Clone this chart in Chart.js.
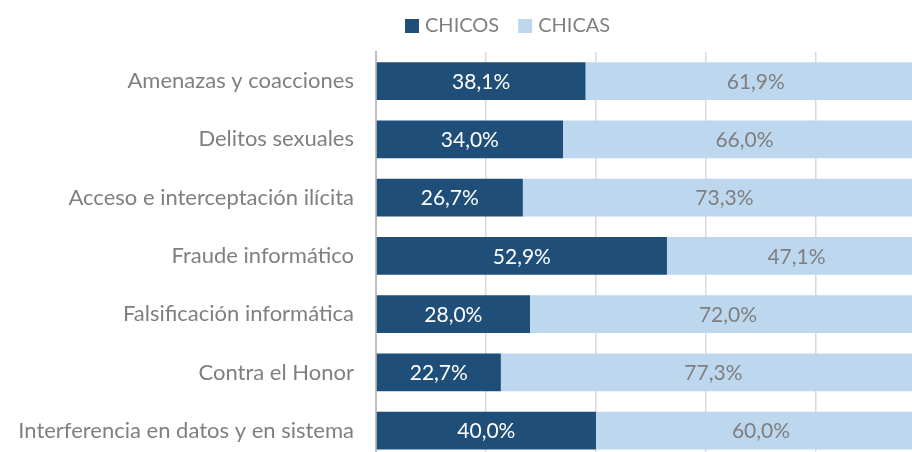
<!DOCTYPE html>
<html>
<head>
<meta charset="utf-8">
<script src="https://cdn.jsdelivr.net/npm/chart.js@4.4.1/dist/chart.umd.min.js"></script>
<style>
  html, body { margin: 0; padding: 0; background: #ffffff; overflow: hidden; }
  #wrap { width: 912px; height: 452px; overflow: hidden; position: relative; }
  canvas { display: block; }
</style>
</head>
<body>
<div id="wrap"><canvas id="c" width="940" height="495" style="width:940px;height:495px"></canvas></div>
<script>
const categories = [
  "Amenazas y coacciones",
  "Delitos sexuales",
  "Acceso e interceptación ilícita",
  "Fraude informático",
  "Falsificación informática",
  "Contra el Honor",
  "Interferencia en datos y en sistema"
];
const seriesNames = ["CHICOS", "CHICAS"];
const chicos = [38.1, 34.0, 26.7, 52.9, 28.0, 22.7, 40.0];
const chicas = [61.9, 66.0, 73.3, 47.1, 72.0, 77.3, 60.0];
const xTickValues = [0, 20, 40, 60, 80, 100];

const FONT = "Lato";
const GREY = "#7F7F7F";
const DARK = "#1F4E79";
const LIGHT = "#BDD7EE";

function fmt(v) { return v.toFixed(1).replace(".", ",") + "%"; }

const labelPlugin = {
  id: "barLabels",
  afterDatasetsDraw(chart) {
    const ctx = chart.ctx;
    ctx.save();
    ctx.font = "21px " + FONT;
    ctx.textAlign = "center";
    ctx.textBaseline = "middle";
    chart.data.datasets.forEach((ds, di) => {
      const meta = chart.getDatasetMeta(di);
      meta.data.forEach((bar, i) => {
        const cx = (bar.x + bar.base) / 2;
        ctx.fillStyle = di === 0 ? "#FFFFFF" : GREY;
        ctx.fillText(fmt(ds.data[i]), cx, bar.y + 1);
      });
    });
    ctx.restore();
  }
};

const legendPlugin = {
  id: "customLegend",
  afterDraw(chart) {
    const ctx = chart.ctx;
    ctx.save();
    ctx.font = "20px " + FONT;
    ctx.textBaseline = "middle";
    ctx.textAlign = "left";
    let x = 405;
    const y = 26;
    chart.data.datasets.forEach((ds) => {
      ctx.fillStyle = ds.backgroundColor;
      ctx.fillRect(x, y - 7, 14, 14);
      x += 14 + 6;
      ctx.fillStyle = GREY;
      ctx.fillText(ds.label, x, y);
      x += ctx.measureText(ds.label).width + 19;
    });
    ctx.restore();
  }
};

new Chart(document.getElementById("c"), {
  type: "bar",
  data: {
    labels: categories,
    datasets: [
      { label: seriesNames[0], data: chicos, backgroundColor: DARK, barPercentage: 0.65, categoryPercentage: 1.0 },
      { label: seriesNames[1], data: chicas, backgroundColor: LIGHT, barPercentage: 0.65, categoryPercentage: 1.0 }
    ]
  },
  options: {
    indexAxis: "y",
    responsive: false,
    animation: false,
    devicePixelRatio: 1,
    layout: { padding: { top: 52, right: 14, bottom: 2, left: 0 } },
    plugins: { legend: { display: false }, tooltip: { enabled: false } },
    scales: {
      x: {
        stacked: true,
        min: 0,
        max: 100,
        afterBuildTicks(scale) { scale.ticks = xTickValues.map(v => ({ value: v })); },
        afterFit(scale) { scale.height = 0; },
        ticks: { display: false },
        grid: { color: "#D9D9D9", lineWidth: 1.5, drawTicks: false },
        border: { display: false }
      },
      y: {
        stacked: true,
        afterFit(scale) { scale.width = 376; },
        ticks: { color: GREY, font: { family: FONT, size: 22 }, padding: 22 },
        grid: { display: false, drawTicks: false },
        border: { display: true, color: "#BFBFBF", width: 2 }
      }
    }
  },
  plugins: [labelPlugin, legendPlugin]
});
</script>
</body>
</html>
